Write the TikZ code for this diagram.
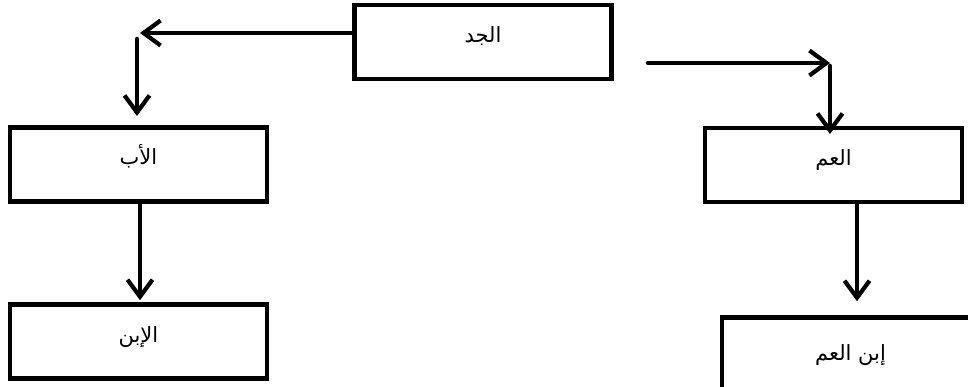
\documentclass[tikz,border=0pt]{standalone}
\usepackage{fontspec}
\newfontfamily\arabicfont[Script=Arabic]{DejaVu Sans}
\TeXXeTstate=1
\usetikzlibrary{arrows.meta}
\tikzset{
  box/.style={draw=black, line width=4.5pt, rectangle, minimum width=257pt, minimum height=74pt,
    inner sep=0pt, font=\arabicfont\fontsize{21}{24}\selectfont, text height=12pt, text depth=11pt},
  conn/.style={line width=4.5pt, -{Straight Barb[length=17pt,width=25pt,line width=4.2pt]}, line cap=round}
}
\begin{document}
\begin{tikzpicture}[x=1pt,y=-1pt]
\useasboundingbox (0,0) rectangle (968,387);
\node[box] (jad) at (483,42) {\beginR الجد\endR};
\node[box] (ab) at (138.5,164.5) {\beginR الأب\endR};
\node[box] (ibn) at (138.5,341.5) {\beginR الإبن\endR};
\node[box] (amm) at (833.5,165) {\beginR العم\endR};
\node[box, text depth=0pt] (ibnamm) at (850.5,354.5) {\beginR إبن العم\endR};
\coordinate (lc) at (140,33);
\coordinate (ltop) at (137,39);
\coordinate (lend) at (137,116);
\coordinate (rs) at (648,63);
\coordinate (rc) at (830,63);
\coordinate (rtop) at (830,66);
\coordinate (rend) at (830,134);
\draw[conn] ([yshift=9pt]jad.west) -- (lc);
\draw[conn] (ltop) -- (lend);
\draw[conn] ([xshift=1.5pt]ab.south) -- ([xshift=1.5pt,yshift=2pt]ibn.north);
\draw[conn] (rs) -- (rc);
\draw[conn] (rtop) -- (rend);
\draw[conn] ([xshift=23.5pt]amm.south) -- ([xshift=23.5pt,yshift=14pt]amm.south |- ibnamm.north);
\end{tikzpicture}
\end{document}
